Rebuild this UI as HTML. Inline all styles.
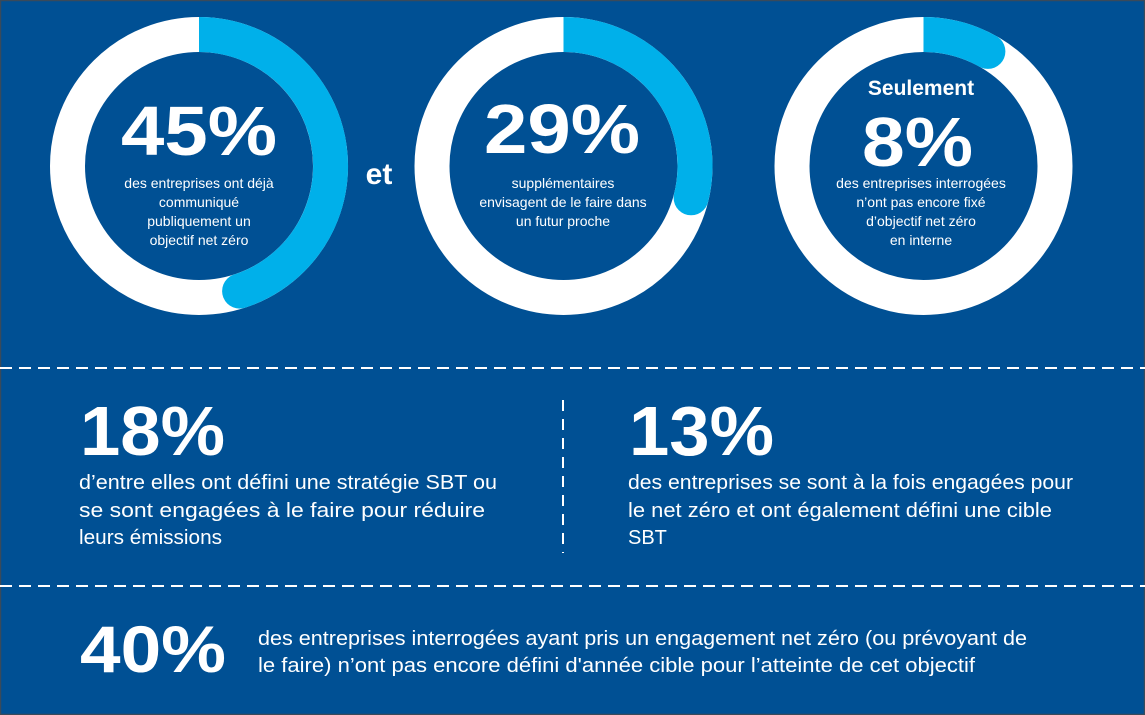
<!DOCTYPE html>
<html><head><meta charset="utf-8"><style>
html,body{margin:0;padding:0;background:#005094;}
svg{display:block}
text{font-family:"Liberation Sans",sans-serif;fill:#fff}
</style></head><body>
<svg width="1145" height="715" viewBox="0 0 1145 715" xmlns="http://www.w3.org/2000/svg">
<rect x="0" y="0" width="1145" height="715" fill="#005094"/>
<rect x="0.5" y="0.5" width="1144" height="714" fill="none" stroke="#3a4a5a" stroke-width="1.5"/>
<circle cx="199" cy="166" r="131.5" fill="none" stroke="#fff" stroke-width="35"/>
<path d="M199 34.5 A131.5 131.5 0 0 1 239.6 291.1" fill="none" stroke="#00b0ea" stroke-width="35"/>
<circle cx="239.6" cy="291.1" r="17.5" fill="#00b0ea"/>
<circle cx="563.5" cy="166" r="131.5" fill="none" stroke="#fff" stroke-width="35"/>
<path d="M563.5 34.5 A131.5 131.5 0 0 1 691.1 197.8" fill="none" stroke="#00b0ea" stroke-width="35"/>
<circle cx="691.1" cy="197.8" r="17.5" fill="#00b0ea"/>
<circle cx="923.5" cy="166" r="131.5" fill="none" stroke="#fff" stroke-width="35"/>
<path d="M923.5 34.5 A131.5 131.5 0 0 1 987.9 51.4" fill="none" stroke="#00b0ea" stroke-width="35"/>
<circle cx="987.9" cy="51.4" r="17.5" fill="#00b0ea"/>

<text x="121" y="155" font-size="70" font-weight="bold" textLength="156" lengthAdjust="spacingAndGlyphs">45%</text>
<text x="484" y="153" font-size="70" font-weight="bold" textLength="156" lengthAdjust="spacingAndGlyphs">29%</text>
<text x="862" y="166" font-size="70" font-weight="bold" textLength="111" lengthAdjust="spacingAndGlyphs">8%</text>
<g text-anchor="middle">
<text x="199" y="188" font-size="14">des entreprises ont déjà</text>
<text x="199" y="207" font-size="14">communiqué</text>
<text x="199" y="226" font-size="14">publiquement un</text>
<text x="199" y="245" font-size="14">objectif net zéro</text>
<text x="379" y="184" font-size="30" font-weight="bold">et</text>
<text x="563" y="188" font-size="14">supplémentaires</text>
<text x="563" y="207" font-size="14">envisagent de le faire dans</text>
<text x="563" y="226" font-size="14">un futur proche</text>
<text x="921" y="95" font-size="21" font-weight="bold">Seulement</text>
<text x="921" y="188" font-size="14">des entreprises interrogées</text>
<text x="921" y="207" font-size="14">n’ont pas encore fixé</text>
<text x="921" y="226" font-size="14">d’objectif net zéro</text>
<text x="921" y="245" font-size="14">en interne</text>
</g>

<line x1="0" y1="368" x2="1145" y2="368" stroke="#fff" stroke-width="2" stroke-dasharray="12 7"/>
<line x1="0" y1="586" x2="1145" y2="586" stroke="#fff" stroke-width="2" stroke-dasharray="12 7"/>
<line x1="563" y1="400" x2="563" y2="553" stroke="#fff" stroke-width="2" stroke-dasharray="11 8"/>

<text x="80" y="455" font-size="70" font-weight="bold" textLength="145" lengthAdjust="spacingAndGlyphs">18%</text>
<text x="79" y="489" font-size="20" textLength="418" lengthAdjust="spacingAndGlyphs">d’entre elles ont défini une stratégie SBT ou</text>
<text x="79" y="517" font-size="20" textLength="406" lengthAdjust="spacingAndGlyphs">se sont engagées à le faire pour réduire</text>
<text x="79" y="544" font-size="20" textLength="143" lengthAdjust="spacingAndGlyphs">leurs émissions</text>

<text x="629" y="455" font-size="70" font-weight="bold" textLength="145" lengthAdjust="spacingAndGlyphs">13%</text>
<text x="628" y="489" font-size="20" textLength="445" lengthAdjust="spacingAndGlyphs">des entreprises se sont à la fois engagées pour</text>
<text x="628" y="517" font-size="20" textLength="424" lengthAdjust="spacingAndGlyphs">le net zéro et ont également défini une cible</text>
<text x="628" y="544" font-size="20">SBT</text>

<text x="80" y="672" font-size="66" font-weight="bold" textLength="146" lengthAdjust="spacingAndGlyphs">40%</text>
<text x="258" y="645" font-size="20" textLength="769" lengthAdjust="spacingAndGlyphs">des entreprises interrogées ayant pris un engagement net zéro (ou prévoyant de</text>
<text x="258" y="672" font-size="20" textLength="717" lengthAdjust="spacingAndGlyphs">le faire) n’ont pas encore défini d'année cible pour l’atteinte de cet objectif</text>
</svg>
</body></html>
